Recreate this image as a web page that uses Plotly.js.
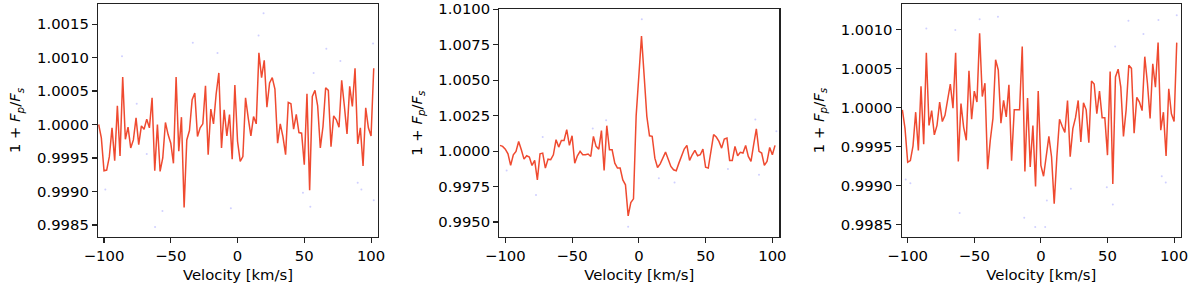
<!DOCTYPE html>
<html><head><meta charset="utf-8">
<script src="https://cdn.plot.ly/plotly-3.0.1.min.js"></script>
<style>html,body{margin:0;padding:0;background:#fff}</style>
</head><body><div id="chart" style="width:1200px;height:294px"></div>
<script>
const velocity = [-104,-102,-100,-98,-96,-94,-92,-90,-88,-86,-84,-82,-80,-78,-76,-74,-72,-70,-68,-66,-64,-62,-60,-58,-56,-54,-52,-50,-48,-46,-44,-42,-40,-38,-36,-34,-32,-30,-28,-26,-24,-22,-20,-18,-16,-14,-12,-10,-8,-6,-4,-2,0,2,4,6,8,10,12,14,16,18,20,22,24,26,28,30,32,34,36,38,40,42,44,46,48,50,52,54,56,58,60,62,64,66,68,70,72,74,76,78,80,82,84,86,88,90,92,94,96,98,100,102];

const fluxLeft = [1.00000,0.99980,0.99931,0.99932,0.99952,0.99995,0.99946,1.00028,0.99953,1.00071,
0.99978,0.99996,0.99965,0.99977,1.00010,0.99970,0.99998,0.99993,1.00008,0.99995,
1.00040,0.99931,1.00000,0.99930,0.99950,1.00003,0.99985,0.99972,0.99942,1.00071,
0.99960,1.00011,0.99876,0.99977,0.99991,1.00037,1.00047,0.99982,0.99995,1.00001,
1.00058,0.99955,1.00023,1.00001,1.00046,1.00077,0.99965,1.00022,0.99983,1.00015,
0.99948,1.00059,0.99975,0.99945,0.99952,1.00040,1.00010,0.99983,1.00012,1.00001,
1.00107,1.00070,1.00096,1.00026,1.00062,1.00070,1.00053,0.99972,1.00001,0.99982,
0.99955,1.00033,1.00031,0.99993,1.00015,0.99988,0.99987,0.99940,1.00046,0.99902,
1.00042,1.00051,1.00028,0.99965,0.99997,1.00055,1.00051,0.99967,1.00013,1.00007,
0.99996,1.00066,1.00028,0.99986,1.00057,1.00027,1.00084,0.99971,0.99995,0.99938,
1.00025,0.99995,0.99983,1.00084];

const fluxMid = [1.00040,1.00033,1.00014,0.99981,0.99899,0.99974,0.99998,1.00068,1.00009,0.99943,
0.99967,0.99958,0.99899,0.99934,0.99797,0.99981,0.99986,0.99880,0.99943,0.99939,
0.99974,1.00080,1.00028,1.00075,1.00075,1.00151,1.00040,1.00108,0.99915,0.99967,
0.99998,0.99974,0.99974,0.99979,0.99962,1.00104,1.00033,1.00014,1.00144,0.99863,
1.00179,1.00009,1.00009,0.99915,0.99880,0.99880,0.99797,0.99762,0.99543,0.99637,
0.99663,1.00250,1.00530,1.00811,1.00530,1.00245,1.00108,1.00104,0.99950,0.99884,
0.99910,0.99950,0.99993,0.99943,0.99892,0.99868,0.99861,0.99915,0.99972,1.00014,
1.00040,0.99934,0.99974,1.00005,0.99967,0.99974,1.00014,0.99887,0.99880,0.99998,
1.00116,1.00099,1.00068,1.00021,1.00085,1.00092,0.99934,0.99934,1.00033,0.99967,
0.99991,0.99986,1.00040,0.99962,0.99927,1.00045,1.00156,0.99998,0.99986,0.99899,
0.99927,1.00026,0.99974,1.00040];

const fluxRight = [0.99997,0.99973,0.99930,0.99932,0.99951,0.99994,0.99945,1.00027,0.99953,1.00070,
0.99977,0.99996,0.99965,0.99977,1.00007,0.99982,0.99990,1.00009,1.00030,0.99999,
1.00070,0.99931,1.00005,0.99975,0.99958,1.00047,0.99985,1.00021,1.00007,1.00095,
1.00014,1.00031,0.99921,0.99958,0.99986,1.00061,1.00048,0.99980,1.00009,0.99988,
1.00029,0.99932,0.99997,0.99997,0.99997,1.00078,0.99918,1.00012,0.99924,0.99977,
0.99899,1.00021,0.99926,0.99912,0.99937,0.99963,0.99937,0.99877,0.99937,0.99985,
0.99976,0.99968,1.00009,0.99937,0.99973,0.99987,1.00009,0.99956,1.00006,0.99997,
0.99955,1.00034,1.00030,0.99992,1.00021,0.99987,0.99987,0.99939,1.00046,0.99902,
1.00039,1.00049,1.00026,0.99963,0.99997,1.00054,1.00050,0.99967,1.00013,1.00007,
0.99996,1.00065,1.00031,0.99986,1.00056,1.00026,1.00083,0.99971,0.99994,0.99938,
1.00024,0.99992,0.99982,1.00083];

// faint individual samples
const dotsLeftV = [19.5,15.75,-33.5,-15,-86.5,-56.25,-61.75,-5,54.5,-99,90,92.75,66.5,101.5,102,-68,-75.5,49,77,57];
const dotsLeftF = [1.00166,1.00133,1.00122,1.00107,1.00102,0.99871,0.99847,0.99875,0.99877,0.99903,0.99913,0.99903,1.00113,1.00121,0.99887,0.99956,1.00031,0.99898,1.00095,1.00077];
const dotsMidV = [2.25,-8,-77,-24.5,87.25,103,15,26.75,-72,-34.5,-99,66.75,90];
const dotsMidF = [1.00929,0.99467,0.99691,1.00217,1.00222,1.00139,0.99809,0.99778,1.00099,1.00160,0.99863,0.99873,0.99833];
const dotsRightV = [-46,-32.25,-64.25,88.25,102,-86,-61,-4.25,3.25,-12.5,54,-98,-101.5,90.75,93.75,49.5,22.5,4.5,65.75,77,55.75];
const dotsRightF = [1.00113,1.00116,1.00099,1.00112,1.00118,1.00101,0.99865,0.99847,0.99847,0.99859,0.99876,0.99903,0.99908,0.99912,0.99904,0.99898,0.99896,0.99881,1.00111,1.00094,1.00078];

const xTicks = [-100,-50,0,50,100];
const yTicksLeft = [0.9985,0.9990,0.9995,1.0000,1.0005,1.0010,1.0015];
const yTicksMid = [0.9950,0.9975,1.0000,1.0025,1.0050,1.0075,1.0100];
const yTicksRight = [0.9985,0.9990,0.9995,1.0000,1.0005,1.0010];

const lineColor = '#ef4a30';
const dotColor = 'rgba(170,170,255,0.55)';
const font = {family:'DejaVu Sans, sans-serif', size:14.8, color:'#000'};
const ytitle = '1 + <i>F<sub>p</sub></i>/<i>F<sub>s</sub></i>';

function dots(v,f,ax){return {x:v,y:f,xaxis:'x'+ax,yaxis:'y'+ax,mode:'markers',type:'scatter',marker:{size:2,color:dotColor},hoverinfo:'skip'};}
function line(f,ax){return {x:velocity,y:f,xaxis:'x'+ax,yaxis:'y'+ax,mode:'lines',type:'scatter',line:{color:lineColor,width:1.5}};}

const data = [
  dots(dotsLeftV,dotsLeftF,''), line(fluxLeft,''),
  dots(dotsMidV,dotsMidF,'2'), line(fluxMid,'2'),
  dots(dotsRightV,dotsRightF,'3'), line(fluxRight,'3')
];

const axCol = '#222';
function xax(dom, anchor){return {domain:dom, anchor:anchor, range:[-104.5,105.2], tickvals:xTicks, ticks:'outside', ticklen:5, tickwidth:1.1, tickcolor:axCol, showline:true, mirror:true, linecolor:axCol, linewidth:1.2, showgrid:false, zeroline:false, tickfont:font, title:{text:'Velocity [km/s]', font:font, standoff:6}};}
function yax(dom, anchor, range, ticks){return {domain:dom, anchor:anchor, range:range, tickvals:ticks, tickformat:'.4f', ticks:'outside', ticklen:5, tickwidth:1.1, tickcolor:axCol, showline:true, mirror:true, linecolor:axCol, linewidth:1.2, showgrid:false, zeroline:false, tickfont:font, title:{text:ytitle, font:font, standoff:12}};}

const H = 294, W = 1200;
const layout = {
  width:W, height:H, margin:{l:0,r:0,t:0,b:0}, showlegend:false,
  paper_bgcolor:'#fff', plot_bgcolor:'#fff', font:font,
  xaxis: xax([98/W,378/W],'y'),
  yaxis: yax([(H-237)/H,(H-4)/H],'x',[0.99832,1.00180],yTicksLeft),
  xaxis2: xax([499.3/W,779.3/W],'y2'),
  yaxis2: yax([(H-237)/H,(H-9.3)/H],'x2',[0.99394,1.0100],yTicksMid),
  xaxis3: xax([901.7/W,1181/W],'y3'),
  yaxis3: yax([(H-237)/H,(H-4)/H],'x3',[0.998343,1.001324],yTicksRight)
};
Plotly.newPlot('chart', data, layout, {staticPlot:true, displayModeBar:false});
</script></body></html>
